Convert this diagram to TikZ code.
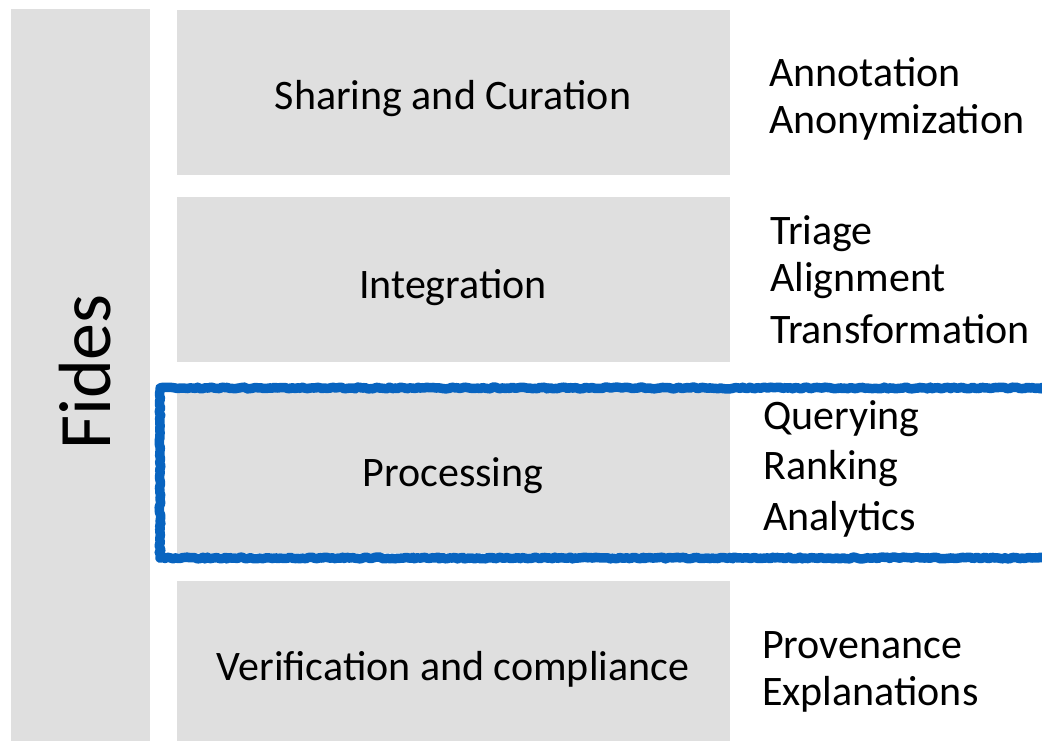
\documentclass[tikz,border=0pt]{standalone}
\usepackage{fontspec}
\setmainfont{Carlito}
\usetikzlibrary{decorations.pathmorphing}
\definecolor{panelgray}{RGB}{223,223,223}
\definecolor{markblue}{RGB}{8,100,192}
\tikzset{
  layer/.style={fill=panelgray, draw=none, minimum width=553pt, minimum height=165pt, inner sep=0pt},
  layertext/.style={inner sep=0pt, anchor=base, font=\fontsize{42}{48}\selectfont},
  item/.style={inner sep=0pt, anchor=base west, font=\fontsize{42}{48}\selectfont},
  sketchline/.style={draw=markblue, line width=9.5pt, line join=round,
    decorate, decoration={random steps, segment length=2.5pt, amplitude=0.9pt}}
}
\begin{document}
\begin{tikzpicture}[x=1pt, y=-1pt]
\useasboundingbox (0,0) rectangle (1042,741);
\fill[white] (0,0) rectangle (1042,741);

% framework bar
\node[fill=panelgray, minimum width=139pt, minimum height=740pt, inner sep=0pt] (bar) at (80.5,379) {};
\node[inner sep=0pt, anchor=base west, rotate=90, font=\fontsize{74}{80}\selectfont] (fides) at (110,450) {Fides};

% layers
\node[layer] (l1) at (453.5,92.5) {};
\node[layer] (l2) at (453.5,279.5) {};
\node[layer] (l3) at (453.5,470.5) {};
\node[layer] (l4) at (453.5,663.5) {};

\node[layertext] (t1) at (453,110) {Sharing and Curation};
\node[layertext] (t2) at (453,298) {Integration};
\node[layertext] (t3) at (453,486) {Processing};
\node[layertext] (t4) at (453,680) {Verification and compliance};

% tasks per layer
\node[item] (ann)  at (769,87)  {Annotation};
\node[item] (anon) at (769,134) {Anonymization};
\node[item] (tri)  at (770,244) {Triage};
\node[item] (ali)  at (770,291) {Alignment};
\node[item] (tra)  at (770,343) {Transformation};
\node[item] (que)  at (763,429) {Querying};
\node[item] (ran)  at (763,479) {Ranking};
\node[item] (ana)  at (763,530) {Analytics};
\node[item] (prov) at (762,658) {Provenance};
\node[item] (expl) at (762,705) {Explanations};

% highlight around the processing layer
\coordinate (hTR) at (1060,388);
\coordinate (hBR) at (1060,558);
\draw[sketchline] (hTR) -- (160,388) -- (160,558) -- (hBR);
\end{tikzpicture}
\end{document}
